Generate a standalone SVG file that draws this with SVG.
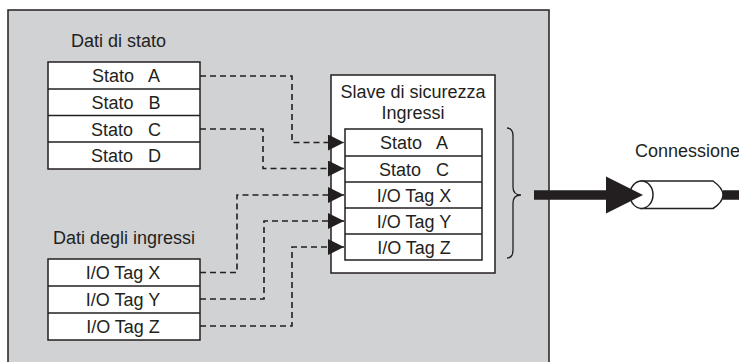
<svg xmlns="http://www.w3.org/2000/svg" width="739" height="362" viewBox="0 0 739 362">
<style>
text{font-family:"Liberation Sans",Arial,Helvetica,sans-serif;fill:#231f20;white-space:pre}
.lbl{font-size:18px}
.cell{font-size:18px;text-anchor:middle}
.box{fill:#fff;stroke:#231f20;stroke-width:1.5}
.dash{fill:none;stroke:#231f20;stroke-width:1.6;stroke-dasharray:6 4}
</style>
<defs>
<marker id="ah" markerUnits="userSpaceOnUse" markerWidth="17" markerHeight="17" refX="16" refY="8" orient="auto" viewBox="0 0 17 17">
<path d="M0,0 L16,8 L0,16 Z" fill="#231f20"/>
</marker>
</defs>
<rect id="panel" x="8" y="10" width="541" height="370" fill="#d1d2d4" stroke="#231f20" stroke-width="1.5"/>
<g id="stato-label"><text class="lbl" x="71" y="47">Dati di stato</text></g>
<g id="stato-table">
<rect class="box" x="48" y="62" width="152" height="107"/>
<line x1="48" y1="89" x2="200" y2="89" stroke="#231f20" stroke-width="1.5"/>
<line x1="48" y1="115.5" x2="200" y2="115.5" stroke="#231f20" stroke-width="1.5"/>
<line x1="48" y1="142" x2="200" y2="142" stroke="#231f20" stroke-width="1.5"/>
<text class="cell" x="126" y="82">Stato   A</text>
<text class="cell" x="126" y="108.5">Stato   B</text>
<text class="cell" x="126" y="135.5">Stato   C</text>
<text class="cell" x="126" y="162">Stato   D</text>
</g>
<g id="ingressi-label"><text class="lbl" x="53" y="244">Dati degli ingressi</text></g>
<g id="ingressi-table">
<rect class="box" x="48" y="259" width="152" height="81"/>
<line x1="48" y1="286" x2="200" y2="286" stroke="#231f20" stroke-width="1.5"/>
<line x1="48" y1="313" x2="200" y2="313" stroke="#231f20" stroke-width="1.5"/>
<text class="cell" x="123" y="279">I/O Tag X</text>
<text class="cell" x="123" y="306">I/O Tag Y</text>
<text class="cell" x="123" y="332.5">I/O Tag Z</text>
</g>
<g id="slave">
<rect class="box" x="331" y="75" width="164" height="198"/>
<text class="lbl" x="413" y="98" text-anchor="middle">Slave di sicurezza</text>
<text class="lbl" x="413" y="119" text-anchor="middle">Ingressi</text>
<rect class="box" x="345" y="129" width="137" height="131"/>
<line x1="345" y1="156" x2="482" y2="156" stroke="#231f20" stroke-width="1.5"/>
<line x1="345" y1="182" x2="482" y2="182" stroke="#231f20" stroke-width="1.5"/>
<line x1="345" y1="208" x2="482" y2="208" stroke="#231f20" stroke-width="1.5"/>
<line x1="345" y1="234" x2="482" y2="234" stroke="#231f20" stroke-width="1.5"/>
<text class="cell" x="414" y="149">Stato   A</text>
<text class="cell" x="414" y="175.5">Stato   C</text>
<text class="cell" x="414" y="201.5">I/O Tag X</text>
<text class="cell" x="414" y="227.5">I/O Tag Y</text>
<text class="cell" x="414" y="253.5">I/O Tag Z</text>
</g>
<g id="brace">
<path d="M507,128 Q513,128 513,136 V187 Q513,195 521,195 Q513,195 513,203 V250 Q513,258 507,258" fill="none" stroke="#231f20" stroke-width="1.3"/>
</g>
<g id="connection">
<text class="lbl" x="635" y="157">Connessione</text>
<path d="M641,181 H713 Q723,188 723,195 Q723,202 713,208.5 H641 Z" fill="#fff" stroke="#231f20" stroke-width="1.5"/>
<ellipse cx="641.5" cy="194.7" rx="11.5" ry="13.7" fill="#fff" stroke="#231f20" stroke-width="1.5"/>
<line x1="723" y1="195" x2="739" y2="195" stroke="#231f20" stroke-width="9.5"/>
</g>
<g id="connectors">
<path class="dash" d="M200,76 H292 V142.5 H344" marker-end="url(#ah)"/>
<path class="dash" d="M200,129 H263 V168.5 H344" marker-end="url(#ah)"/>
<path class="dash" d="M200,272.5 H237 V195 H344" marker-end="url(#ah)"/>
<path class="dash" d="M200,299 H264 V221 H344" marker-end="url(#ah)"/>
<path class="dash" d="M200,326 H292 V247 H344" marker-end="url(#ah)"/>
<line x1="534" y1="195" x2="610" y2="195" stroke="#231f20" stroke-width="9.5"/>
<path d="M606,176.5 L643,195 L606,213.5 Z" fill="#231f20"/>
</g>
</svg>
